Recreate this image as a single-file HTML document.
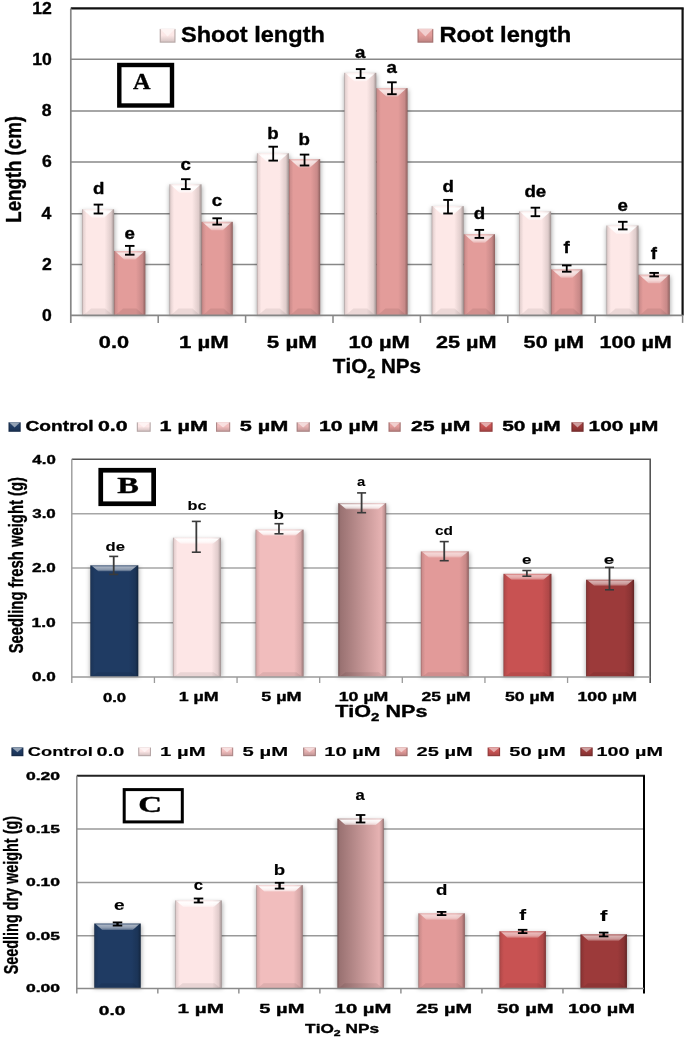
<!DOCTYPE html>
<html><head><meta charset="utf-8"><style>
html,body{margin:0;padding:0;background:#fff;overflow:hidden;}
svg{display:block;filter:blur(0.45px);}
text{font-kerning:none;stroke:#000;stroke-width:0.35px;stroke-linejoin:round;}
</style></head><body>
<svg width="685" height="1037" viewBox="0 0 685 1037">
<rect x="0" y="0" width="685" height="1037" fill="#fff"/>
<defs><filter id="blur" x="-30%" y="-10%" width="160%" height="120%"><feGaussianBlur stdDeviation="2.2"/></filter></defs>
<line x1="70.80" y1="264.50" x2="682.60" y2="264.50" stroke="#888" stroke-width="1.4"/>
<line x1="70.80" y1="213.80" x2="682.60" y2="213.80" stroke="#888" stroke-width="1.4"/>
<line x1="70.80" y1="162.05" x2="682.60" y2="162.05" stroke="#888" stroke-width="1.4"/>
<line x1="70.80" y1="111.00" x2="682.60" y2="111.00" stroke="#888" stroke-width="1.4"/>
<line x1="70.80" y1="59.30" x2="682.60" y2="59.30" stroke="#888" stroke-width="1.4"/>
<rect x="81.60" y="210.80" width="33.50" height="104.60" fill="#000" fill-opacity="0.3" filter="url(#blur)"/>
<rect x="113.60" y="252.50" width="32.80" height="62.90" fill="#000" fill-opacity="0.3" filter="url(#blur)"/>
<rect x="169.00" y="185.80" width="33.50" height="129.60" fill="#000" fill-opacity="0.3" filter="url(#blur)"/>
<rect x="201.00" y="223.30" width="32.80" height="92.10" fill="#000" fill-opacity="0.3" filter="url(#blur)"/>
<rect x="256.40" y="154.80" width="33.50" height="160.60" fill="#000" fill-opacity="0.3" filter="url(#blur)"/>
<rect x="288.40" y="160.60" width="32.80" height="154.80" fill="#000" fill-opacity="0.3" filter="url(#blur)"/>
<rect x="343.80" y="74.30" width="33.50" height="241.10" fill="#000" fill-opacity="0.3" filter="url(#blur)"/>
<rect x="375.80" y="89.60" width="32.80" height="225.80" fill="#000" fill-opacity="0.3" filter="url(#blur)"/>
<rect x="431.20" y="207.60" width="33.50" height="107.80" fill="#000" fill-opacity="0.3" filter="url(#blur)"/>
<rect x="463.20" y="235.70" width="32.80" height="79.70" fill="#000" fill-opacity="0.3" filter="url(#blur)"/>
<rect x="518.60" y="212.90" width="33.50" height="102.50" fill="#000" fill-opacity="0.3" filter="url(#blur)"/>
<rect x="550.60" y="270.80" width="32.80" height="44.60" fill="#000" fill-opacity="0.3" filter="url(#blur)"/>
<rect x="606.00" y="227.00" width="33.50" height="88.40" fill="#000" fill-opacity="0.3" filter="url(#blur)"/>
<rect x="638.00" y="276.20" width="32.80" height="39.20" fill="#000" fill-opacity="0.3" filter="url(#blur)"/>
<defs><linearGradient id="g1" x1="0" x2="1" y1="0" y2="0"><stop offset="0" stop-color="#aa9b9b"/><stop offset="0.037" stop-color="#e4d1d0"/><stop offset="0.141" stop-color="#fde8e7"/><stop offset="0.703" stop-color="#fde8e7"/><stop offset="0.906" stop-color="#dfcccb"/><stop offset="1" stop-color="#9d908f"/></linearGradient></defs>
<rect x="82.10" y="209.30" width="32.00" height="106.10" fill="url(#g1)" />
<defs><linearGradient id="t2" x1="0" x2="0" y1="0" y2="1"><stop offset="0" stop-color="#fff" stop-opacity="0.30"/><stop offset="0.3" stop-color="#fff" stop-opacity="1.00"/><stop offset="0.7" stop-color="#fff" stop-opacity="0.80"/><stop offset="1" stop-color="#fff" stop-opacity="0.35"/></linearGradient></defs>
<polygon points="82.90,209.30 113.30,209.30 104.10,217.80 92.10,217.80" fill="url(#t2)" />
<polygon points="83.10,315.40 113.10,315.40 105.10,308.60 91.10,308.60" fill="#000" fill-opacity="0.07"/>
<defs><linearGradient id="g3" x1="0" x2="1" y1="0" y2="0"><stop offset="0" stop-color="#986967"/><stop offset="0.038" stop-color="#cc8c8b"/><stop offset="0.144" stop-color="#e39c9a"/><stop offset="0.696" stop-color="#e39c9a"/><stop offset="0.904" stop-color="#c88988"/><stop offset="1" stop-color="#8d615f"/></linearGradient></defs>
<rect x="114.10" y="251.00" width="31.30" height="64.40" fill="url(#g3)" />
<defs><linearGradient id="t4" x1="0" x2="0" y1="0" y2="1"><stop offset="0" stop-color="#fff" stop-opacity="0.22"/><stop offset="0.3" stop-color="#fff" stop-opacity="0.75"/><stop offset="0.7" stop-color="#fff" stop-opacity="0.60"/><stop offset="1" stop-color="#fff" stop-opacity="0.26"/></linearGradient></defs>
<polygon points="114.90,251.00 144.60,251.00 135.40,259.50 124.10,259.50" fill="url(#t4)" />
<polygon points="115.10,315.40 144.40,315.40 136.40,308.60 123.10,308.60" fill="#000" fill-opacity="0.08"/>
<defs><linearGradient id="g5" x1="0" x2="1" y1="0" y2="0"><stop offset="0" stop-color="#aa9b9b"/><stop offset="0.037" stop-color="#e4d1d0"/><stop offset="0.141" stop-color="#fde8e7"/><stop offset="0.703" stop-color="#fde8e7"/><stop offset="0.906" stop-color="#dfcccb"/><stop offset="1" stop-color="#9d908f"/></linearGradient></defs>
<rect x="169.50" y="184.30" width="32.00" height="131.10" fill="url(#g5)" />
<defs><linearGradient id="t6" x1="0" x2="0" y1="0" y2="1"><stop offset="0" stop-color="#fff" stop-opacity="0.30"/><stop offset="0.3" stop-color="#fff" stop-opacity="1.00"/><stop offset="0.7" stop-color="#fff" stop-opacity="0.80"/><stop offset="1" stop-color="#fff" stop-opacity="0.35"/></linearGradient></defs>
<polygon points="170.30,184.30 200.70,184.30 191.50,192.80 179.50,192.80" fill="url(#t6)" />
<polygon points="170.50,315.40 200.50,315.40 192.50,308.60 178.50,308.60" fill="#000" fill-opacity="0.07"/>
<defs><linearGradient id="g7" x1="0" x2="1" y1="0" y2="0"><stop offset="0" stop-color="#986967"/><stop offset="0.038" stop-color="#cc8c8b"/><stop offset="0.144" stop-color="#e39c9a"/><stop offset="0.696" stop-color="#e39c9a"/><stop offset="0.904" stop-color="#c88988"/><stop offset="1" stop-color="#8d615f"/></linearGradient></defs>
<rect x="201.50" y="221.80" width="31.30" height="93.60" fill="url(#g7)" />
<defs><linearGradient id="t8" x1="0" x2="0" y1="0" y2="1"><stop offset="0" stop-color="#fff" stop-opacity="0.22"/><stop offset="0.3" stop-color="#fff" stop-opacity="0.75"/><stop offset="0.7" stop-color="#fff" stop-opacity="0.60"/><stop offset="1" stop-color="#fff" stop-opacity="0.26"/></linearGradient></defs>
<polygon points="202.30,221.80 232.00,221.80 222.80,230.30 211.50,230.30" fill="url(#t8)" />
<polygon points="202.50,315.40 231.80,315.40 223.80,308.60 210.50,308.60" fill="#000" fill-opacity="0.08"/>
<defs><linearGradient id="g9" x1="0" x2="1" y1="0" y2="0"><stop offset="0" stop-color="#aa9b9b"/><stop offset="0.037" stop-color="#e4d1d0"/><stop offset="0.141" stop-color="#fde8e7"/><stop offset="0.703" stop-color="#fde8e7"/><stop offset="0.906" stop-color="#dfcccb"/><stop offset="1" stop-color="#9d908f"/></linearGradient></defs>
<rect x="256.90" y="153.30" width="32.00" height="162.10" fill="url(#g9)" />
<defs><linearGradient id="t10" x1="0" x2="0" y1="0" y2="1"><stop offset="0" stop-color="#fff" stop-opacity="0.30"/><stop offset="0.3" stop-color="#fff" stop-opacity="1.00"/><stop offset="0.7" stop-color="#fff" stop-opacity="0.80"/><stop offset="1" stop-color="#fff" stop-opacity="0.35"/></linearGradient></defs>
<polygon points="257.70,153.30 288.10,153.30 278.90,161.80 266.90,161.80" fill="url(#t10)" />
<polygon points="257.90,315.40 287.90,315.40 279.90,308.60 265.90,308.60" fill="#000" fill-opacity="0.07"/>
<defs><linearGradient id="g11" x1="0" x2="1" y1="0" y2="0"><stop offset="0" stop-color="#986967"/><stop offset="0.038" stop-color="#cc8c8b"/><stop offset="0.144" stop-color="#e39c9a"/><stop offset="0.696" stop-color="#e39c9a"/><stop offset="0.904" stop-color="#c88988"/><stop offset="1" stop-color="#8d615f"/></linearGradient></defs>
<rect x="288.90" y="159.10" width="31.30" height="156.30" fill="url(#g11)" />
<defs><linearGradient id="t12" x1="0" x2="0" y1="0" y2="1"><stop offset="0" stop-color="#fff" stop-opacity="0.22"/><stop offset="0.3" stop-color="#fff" stop-opacity="0.75"/><stop offset="0.7" stop-color="#fff" stop-opacity="0.60"/><stop offset="1" stop-color="#fff" stop-opacity="0.26"/></linearGradient></defs>
<polygon points="289.70,159.10 319.40,159.10 310.20,167.60 298.90,167.60" fill="url(#t12)" />
<polygon points="289.90,315.40 319.20,315.40 311.20,308.60 297.90,308.60" fill="#000" fill-opacity="0.08"/>
<defs><linearGradient id="g13" x1="0" x2="1" y1="0" y2="0"><stop offset="0" stop-color="#aa9b9b"/><stop offset="0.037" stop-color="#e4d1d0"/><stop offset="0.141" stop-color="#fde8e7"/><stop offset="0.703" stop-color="#fde8e7"/><stop offset="0.906" stop-color="#dfcccb"/><stop offset="1" stop-color="#9d908f"/></linearGradient></defs>
<rect x="344.30" y="72.80" width="32.00" height="242.60" fill="url(#g13)" />
<defs><linearGradient id="t14" x1="0" x2="0" y1="0" y2="1"><stop offset="0" stop-color="#fff" stop-opacity="0.30"/><stop offset="0.3" stop-color="#fff" stop-opacity="1.00"/><stop offset="0.7" stop-color="#fff" stop-opacity="0.80"/><stop offset="1" stop-color="#fff" stop-opacity="0.35"/></linearGradient></defs>
<polygon points="345.10,72.80 375.50,72.80 366.30,81.30 354.30,81.30" fill="url(#t14)" />
<polygon points="345.30,315.40 375.30,315.40 367.30,308.60 353.30,308.60" fill="#000" fill-opacity="0.07"/>
<defs><linearGradient id="g15" x1="0" x2="1" y1="0" y2="0"><stop offset="0" stop-color="#986967"/><stop offset="0.038" stop-color="#cc8c8b"/><stop offset="0.144" stop-color="#e39c9a"/><stop offset="0.696" stop-color="#e39c9a"/><stop offset="0.904" stop-color="#c88988"/><stop offset="1" stop-color="#8d615f"/></linearGradient></defs>
<rect x="376.30" y="88.10" width="31.30" height="227.30" fill="url(#g15)" />
<defs><linearGradient id="t16" x1="0" x2="0" y1="0" y2="1"><stop offset="0" stop-color="#fff" stop-opacity="0.22"/><stop offset="0.3" stop-color="#fff" stop-opacity="0.75"/><stop offset="0.7" stop-color="#fff" stop-opacity="0.60"/><stop offset="1" stop-color="#fff" stop-opacity="0.26"/></linearGradient></defs>
<polygon points="377.10,88.10 406.80,88.10 397.60,96.60 386.30,96.60" fill="url(#t16)" />
<polygon points="377.30,315.40 406.60,315.40 398.60,308.60 385.30,308.60" fill="#000" fill-opacity="0.08"/>
<defs><linearGradient id="g17" x1="0" x2="1" y1="0" y2="0"><stop offset="0" stop-color="#aa9b9b"/><stop offset="0.037" stop-color="#e4d1d0"/><stop offset="0.141" stop-color="#fde8e7"/><stop offset="0.703" stop-color="#fde8e7"/><stop offset="0.906" stop-color="#dfcccb"/><stop offset="1" stop-color="#9d908f"/></linearGradient></defs>
<rect x="431.70" y="206.10" width="32.00" height="109.30" fill="url(#g17)" />
<defs><linearGradient id="t18" x1="0" x2="0" y1="0" y2="1"><stop offset="0" stop-color="#fff" stop-opacity="0.30"/><stop offset="0.3" stop-color="#fff" stop-opacity="1.00"/><stop offset="0.7" stop-color="#fff" stop-opacity="0.80"/><stop offset="1" stop-color="#fff" stop-opacity="0.35"/></linearGradient></defs>
<polygon points="432.50,206.10 462.90,206.10 453.70,214.60 441.70,214.60" fill="url(#t18)" />
<polygon points="432.70,315.40 462.70,315.40 454.70,308.60 440.70,308.60" fill="#000" fill-opacity="0.07"/>
<defs><linearGradient id="g19" x1="0" x2="1" y1="0" y2="0"><stop offset="0" stop-color="#986967"/><stop offset="0.038" stop-color="#cc8c8b"/><stop offset="0.144" stop-color="#e39c9a"/><stop offset="0.696" stop-color="#e39c9a"/><stop offset="0.904" stop-color="#c88988"/><stop offset="1" stop-color="#8d615f"/></linearGradient></defs>
<rect x="463.70" y="234.20" width="31.30" height="81.20" fill="url(#g19)" />
<defs><linearGradient id="t20" x1="0" x2="0" y1="0" y2="1"><stop offset="0" stop-color="#fff" stop-opacity="0.22"/><stop offset="0.3" stop-color="#fff" stop-opacity="0.75"/><stop offset="0.7" stop-color="#fff" stop-opacity="0.60"/><stop offset="1" stop-color="#fff" stop-opacity="0.26"/></linearGradient></defs>
<polygon points="464.50,234.20 494.20,234.20 485.00,242.70 473.70,242.70" fill="url(#t20)" />
<polygon points="464.70,315.40 494.00,315.40 486.00,308.60 472.70,308.60" fill="#000" fill-opacity="0.08"/>
<defs><linearGradient id="g21" x1="0" x2="1" y1="0" y2="0"><stop offset="0" stop-color="#aa9b9b"/><stop offset="0.037" stop-color="#e4d1d0"/><stop offset="0.141" stop-color="#fde8e7"/><stop offset="0.703" stop-color="#fde8e7"/><stop offset="0.906" stop-color="#dfcccb"/><stop offset="1" stop-color="#9d908f"/></linearGradient></defs>
<rect x="519.10" y="211.40" width="32.00" height="104.00" fill="url(#g21)" />
<defs><linearGradient id="t22" x1="0" x2="0" y1="0" y2="1"><stop offset="0" stop-color="#fff" stop-opacity="0.30"/><stop offset="0.3" stop-color="#fff" stop-opacity="1.00"/><stop offset="0.7" stop-color="#fff" stop-opacity="0.80"/><stop offset="1" stop-color="#fff" stop-opacity="0.35"/></linearGradient></defs>
<polygon points="519.90,211.40 550.30,211.40 541.10,219.90 529.10,219.90" fill="url(#t22)" />
<polygon points="520.10,315.40 550.10,315.40 542.10,308.60 528.10,308.60" fill="#000" fill-opacity="0.07"/>
<defs><linearGradient id="g23" x1="0" x2="1" y1="0" y2="0"><stop offset="0" stop-color="#986967"/><stop offset="0.038" stop-color="#cc8c8b"/><stop offset="0.144" stop-color="#e39c9a"/><stop offset="0.696" stop-color="#e39c9a"/><stop offset="0.904" stop-color="#c88988"/><stop offset="1" stop-color="#8d615f"/></linearGradient></defs>
<rect x="551.10" y="269.30" width="31.30" height="46.10" fill="url(#g23)" />
<defs><linearGradient id="t24" x1="0" x2="0" y1="0" y2="1"><stop offset="0" stop-color="#fff" stop-opacity="0.22"/><stop offset="0.3" stop-color="#fff" stop-opacity="0.75"/><stop offset="0.7" stop-color="#fff" stop-opacity="0.60"/><stop offset="1" stop-color="#fff" stop-opacity="0.26"/></linearGradient></defs>
<polygon points="551.90,269.30 581.60,269.30 572.40,277.80 561.10,277.80" fill="url(#t24)" />
<polygon points="552.10,315.40 581.40,315.40 573.40,308.60 560.10,308.60" fill="#000" fill-opacity="0.08"/>
<defs><linearGradient id="g25" x1="0" x2="1" y1="0" y2="0"><stop offset="0" stop-color="#aa9b9b"/><stop offset="0.037" stop-color="#e4d1d0"/><stop offset="0.141" stop-color="#fde8e7"/><stop offset="0.703" stop-color="#fde8e7"/><stop offset="0.906" stop-color="#dfcccb"/><stop offset="1" stop-color="#9d908f"/></linearGradient></defs>
<rect x="606.50" y="225.50" width="32.00" height="89.90" fill="url(#g25)" />
<defs><linearGradient id="t26" x1="0" x2="0" y1="0" y2="1"><stop offset="0" stop-color="#fff" stop-opacity="0.30"/><stop offset="0.3" stop-color="#fff" stop-opacity="1.00"/><stop offset="0.7" stop-color="#fff" stop-opacity="0.80"/><stop offset="1" stop-color="#fff" stop-opacity="0.35"/></linearGradient></defs>
<polygon points="607.30,225.50 637.70,225.50 628.50,234.00 616.50,234.00" fill="url(#t26)" />
<polygon points="607.50,315.40 637.50,315.40 629.50,308.60 615.50,308.60" fill="#000" fill-opacity="0.07"/>
<defs><linearGradient id="g27" x1="0" x2="1" y1="0" y2="0"><stop offset="0" stop-color="#986967"/><stop offset="0.038" stop-color="#cc8c8b"/><stop offset="0.144" stop-color="#e39c9a"/><stop offset="0.696" stop-color="#e39c9a"/><stop offset="0.904" stop-color="#c88988"/><stop offset="1" stop-color="#8d615f"/></linearGradient></defs>
<rect x="638.50" y="274.70" width="31.30" height="40.70" fill="url(#g27)" />
<defs><linearGradient id="t28" x1="0" x2="0" y1="0" y2="1"><stop offset="0" stop-color="#fff" stop-opacity="0.22"/><stop offset="0.3" stop-color="#fff" stop-opacity="0.75"/><stop offset="0.7" stop-color="#fff" stop-opacity="0.60"/><stop offset="1" stop-color="#fff" stop-opacity="0.26"/></linearGradient></defs>
<polygon points="639.30,274.70 669.00,274.70 659.80,283.20 648.50,283.20" fill="url(#t28)" />
<polygon points="639.50,315.40 668.80,315.40 660.80,308.60 647.50,308.60" fill="#000" fill-opacity="0.08"/>
<line x1="98.40" y1="204.60" x2="98.40" y2="213.50" stroke="#000" stroke-width="1.8"/>
<line x1="93.65" y1="204.60" x2="103.15" y2="204.60" stroke="#000" stroke-width="1.9"/>
<line x1="93.65" y1="213.50" x2="103.15" y2="213.50" stroke="#000" stroke-width="1.9"/>
<line x1="129.75" y1="245.90" x2="129.75" y2="254.70" stroke="#000" stroke-width="1.8"/>
<line x1="125.00" y1="245.90" x2="134.50" y2="245.90" stroke="#000" stroke-width="1.9"/>
<line x1="125.00" y1="254.70" x2="134.50" y2="254.70" stroke="#000" stroke-width="1.9"/>
<text x="92.92" y="194.10" font-family="Liberation Sans" font-size="17" font-weight="bold" fill="#000" textLength="11.42" lengthAdjust="spacingAndGlyphs">d</text>
<text x="124.50" y="238.60" font-family="Liberation Sans" font-size="17" font-weight="bold" fill="#000" textLength="10.40" lengthAdjust="spacingAndGlyphs">e</text>
<line x1="185.80" y1="179.20" x2="185.80" y2="189.10" stroke="#000" stroke-width="1.8"/>
<line x1="181.05" y1="179.20" x2="190.55" y2="179.20" stroke="#000" stroke-width="1.9"/>
<line x1="181.05" y1="189.10" x2="190.55" y2="189.10" stroke="#000" stroke-width="1.9"/>
<line x1="217.15" y1="218.30" x2="217.15" y2="224.60" stroke="#000" stroke-width="1.8"/>
<line x1="212.40" y1="218.30" x2="221.90" y2="218.30" stroke="#000" stroke-width="1.9"/>
<line x1="212.40" y1="224.60" x2="221.90" y2="224.60" stroke="#000" stroke-width="1.9"/>
<text x="180.51" y="169.70" font-family="Liberation Sans" font-size="17" font-weight="bold" fill="#000" textLength="10.40" lengthAdjust="spacingAndGlyphs">c</text>
<text x="211.86" y="206.20" font-family="Liberation Sans" font-size="17" font-weight="bold" fill="#000" textLength="10.40" lengthAdjust="spacingAndGlyphs">c</text>
<line x1="273.20" y1="146.70" x2="273.20" y2="160.60" stroke="#000" stroke-width="1.8"/>
<line x1="268.45" y1="146.70" x2="277.95" y2="146.70" stroke="#000" stroke-width="1.9"/>
<line x1="268.45" y1="160.60" x2="277.95" y2="160.60" stroke="#000" stroke-width="1.9"/>
<line x1="304.55" y1="154.60" x2="304.55" y2="165.50" stroke="#000" stroke-width="1.8"/>
<line x1="299.80" y1="154.60" x2="309.30" y2="154.60" stroke="#000" stroke-width="1.9"/>
<line x1="299.80" y1="165.50" x2="309.30" y2="165.50" stroke="#000" stroke-width="1.9"/>
<text x="267.26" y="139.00" font-family="Liberation Sans" font-size="17" font-weight="bold" fill="#000" textLength="11.42" lengthAdjust="spacingAndGlyphs">b</text>
<text x="298.61" y="144.80" font-family="Liberation Sans" font-size="17" font-weight="bold" fill="#000" textLength="11.42" lengthAdjust="spacingAndGlyphs">b</text>
<line x1="360.60" y1="69.10" x2="360.60" y2="77.90" stroke="#000" stroke-width="1.8"/>
<line x1="355.85" y1="69.10" x2="365.35" y2="69.10" stroke="#000" stroke-width="1.9"/>
<line x1="355.85" y1="77.90" x2="365.35" y2="77.90" stroke="#000" stroke-width="1.9"/>
<line x1="391.95" y1="82.30" x2="391.95" y2="94.20" stroke="#000" stroke-width="1.8"/>
<line x1="387.20" y1="82.30" x2="396.70" y2="82.30" stroke="#000" stroke-width="1.9"/>
<line x1="387.20" y1="94.20" x2="396.70" y2="94.20" stroke="#000" stroke-width="1.9"/>
<text x="355.07" y="57.70" font-family="Liberation Sans" font-size="17" font-weight="bold" fill="#000" textLength="10.40" lengthAdjust="spacingAndGlyphs">a</text>
<text x="386.42" y="73.00" font-family="Liberation Sans" font-size="17" font-weight="bold" fill="#000" textLength="10.40" lengthAdjust="spacingAndGlyphs">a</text>
<line x1="448.00" y1="199.90" x2="448.00" y2="213.50" stroke="#000" stroke-width="1.8"/>
<line x1="443.25" y1="199.90" x2="452.75" y2="199.90" stroke="#000" stroke-width="1.9"/>
<line x1="443.25" y1="213.50" x2="452.75" y2="213.50" stroke="#000" stroke-width="1.9"/>
<line x1="479.35" y1="229.90" x2="479.35" y2="237.90" stroke="#000" stroke-width="1.8"/>
<line x1="474.60" y1="229.90" x2="484.10" y2="229.90" stroke="#000" stroke-width="1.9"/>
<line x1="474.60" y1="237.90" x2="484.10" y2="237.90" stroke="#000" stroke-width="1.9"/>
<text x="442.52" y="191.90" font-family="Liberation Sans" font-size="17" font-weight="bold" fill="#000" textLength="11.42" lengthAdjust="spacingAndGlyphs">d</text>
<text x="473.87" y="218.90" font-family="Liberation Sans" font-size="17" font-weight="bold" fill="#000" textLength="11.42" lengthAdjust="spacingAndGlyphs">d</text>
<line x1="535.40" y1="207.70" x2="535.40" y2="216.20" stroke="#000" stroke-width="1.8"/>
<line x1="530.65" y1="207.70" x2="540.15" y2="207.70" stroke="#000" stroke-width="1.9"/>
<line x1="530.65" y1="216.20" x2="540.15" y2="216.20" stroke="#000" stroke-width="1.9"/>
<line x1="566.75" y1="265.40" x2="566.75" y2="271.70" stroke="#000" stroke-width="1.8"/>
<line x1="562.00" y1="265.40" x2="571.50" y2="265.40" stroke="#000" stroke-width="1.9"/>
<line x1="562.00" y1="271.70" x2="571.50" y2="271.70" stroke="#000" stroke-width="1.9"/>
<text x="524.42" y="196.50" font-family="Liberation Sans" font-size="17" font-weight="bold" fill="#000" textLength="21.82" lengthAdjust="spacingAndGlyphs">de</text>
<text x="563.46" y="253.00" font-family="Liberation Sans" font-size="17" font-weight="bold" fill="#000" textLength="6.23" lengthAdjust="spacingAndGlyphs">f</text>
<line x1="622.80" y1="221.80" x2="622.80" y2="229.40" stroke="#000" stroke-width="1.8"/>
<line x1="618.05" y1="221.80" x2="627.55" y2="221.80" stroke="#000" stroke-width="1.9"/>
<line x1="618.05" y1="229.40" x2="627.55" y2="229.40" stroke="#000" stroke-width="1.9"/>
<line x1="654.15" y1="272.90" x2="654.15" y2="276.40" stroke="#000" stroke-width="1.8"/>
<line x1="649.40" y1="272.90" x2="658.90" y2="272.90" stroke="#000" stroke-width="1.9"/>
<line x1="649.40" y1="276.40" x2="658.90" y2="276.40" stroke="#000" stroke-width="1.9"/>
<text x="617.55" y="211.20" font-family="Liberation Sans" font-size="17" font-weight="bold" fill="#000" textLength="10.40" lengthAdjust="spacingAndGlyphs">e</text>
<text x="650.86" y="259.30" font-family="Liberation Sans" font-size="17" font-weight="bold" fill="#000" textLength="6.23" lengthAdjust="spacingAndGlyphs">f</text>
<line x1="70.80" y1="8.40" x2="683.70" y2="8.40" stroke="#111" stroke-width="2.2"/>
<line x1="682.60" y1="8.40" x2="682.60" y2="315.40" stroke="#111" stroke-width="2.2"/>
<line x1="70.80" y1="8.40" x2="70.80" y2="322.90" stroke="#868686" stroke-width="1.7"/>
<line x1="70.80" y1="315.40" x2="682.60" y2="315.40" stroke="#868686" stroke-width="1.7"/>
<line x1="158.20" y1="315.40" x2="158.20" y2="322.90" stroke="#868686" stroke-width="1.5"/>
<line x1="245.60" y1="315.40" x2="245.60" y2="322.90" stroke="#868686" stroke-width="1.5"/>
<line x1="333.00" y1="315.40" x2="333.00" y2="322.90" stroke="#868686" stroke-width="1.5"/>
<line x1="420.40" y1="315.40" x2="420.40" y2="322.90" stroke="#868686" stroke-width="1.5"/>
<line x1="507.80" y1="315.40" x2="507.80" y2="322.90" stroke="#868686" stroke-width="1.5"/>
<line x1="595.20" y1="315.40" x2="595.20" y2="322.90" stroke="#868686" stroke-width="1.5"/>
<line x1="682.60" y1="315.40" x2="682.60" y2="322.90" stroke="#868686" stroke-width="1.5"/>
<text x="42.03" y="320.80" font-family="Liberation Sans" font-size="16.3" font-weight="bold" fill="#000" textLength="9.79" lengthAdjust="spacingAndGlyphs">0</text>
<text x="42.01" y="269.80" font-family="Liberation Sans" font-size="16.3" font-weight="bold" fill="#000" textLength="9.79" lengthAdjust="spacingAndGlyphs">2</text>
<text x="41.40" y="219.10" font-family="Liberation Sans" font-size="16.3" font-weight="bold" fill="#000" textLength="9.79" lengthAdjust="spacingAndGlyphs">4</text>
<text x="41.95" y="167.35" font-family="Liberation Sans" font-size="16.3" font-weight="bold" fill="#000" textLength="9.79" lengthAdjust="spacingAndGlyphs">6</text>
<text x="41.85" y="116.30" font-family="Liberation Sans" font-size="16.3" font-weight="bold" fill="#000" textLength="9.79" lengthAdjust="spacingAndGlyphs">8</text>
<text x="32.24" y="64.60" font-family="Liberation Sans" font-size="16.3" font-weight="bold" fill="#000" textLength="19.58" lengthAdjust="spacingAndGlyphs">10</text>
<text x="32.22" y="13.70" font-family="Liberation Sans" font-size="16.3" font-weight="bold" fill="#000" textLength="19.58" lengthAdjust="spacingAndGlyphs">12</text>
<text transform="translate(20.80,221.50) rotate(-90)" x="-1.25" y="0" font-family="Liberation Sans" font-size="21.8" font-weight="bold" fill="#000" textLength="106.68" lengthAdjust="spacingAndGlyphs">Length (cm)</text>
<text x="98.84" y="347.90" font-family="Liberation Sans" font-size="16.8" font-weight="bold" fill="#000" textLength="30.25" lengthAdjust="spacingAndGlyphs">0.0</text>
<text x="179.10" y="347.90" font-family="Liberation Sans" font-size="16.8" font-weight="bold" fill="#000" textLength="49.78" lengthAdjust="spacingAndGlyphs">1 µM</text>
<text x="266.81" y="347.90" font-family="Liberation Sans" font-size="16.8" font-weight="bold" fill="#000" textLength="50.08" lengthAdjust="spacingAndGlyphs">5 µM</text>
<text x="348.52" y="347.90" font-family="Liberation Sans" font-size="16.8" font-weight="bold" fill="#000" textLength="61.24" lengthAdjust="spacingAndGlyphs">10 µM</text>
<text x="435.95" y="347.90" font-family="Liberation Sans" font-size="16.8" font-weight="bold" fill="#000" textLength="60.60" lengthAdjust="spacingAndGlyphs">25 µM</text>
<text x="523.64" y="347.90" font-family="Liberation Sans" font-size="16.8" font-weight="bold" fill="#000" textLength="60.51" lengthAdjust="spacingAndGlyphs">50 µM</text>
<text x="599.44" y="347.90" font-family="Liberation Sans" font-size="16.8" font-weight="bold" fill="#000" textLength="72.40" lengthAdjust="spacingAndGlyphs">100 µM</text>
<text y="373.30" font-family="Liberation Sans" font-size="19.5" font-weight="bold" fill="#000"><tspan x="332.87" textLength="34.38" lengthAdjust="spacingAndGlyphs">TiO</tspan><tspan x="367.24" dy="5" font-size="13.5" textLength="7.94" lengthAdjust="spacingAndGlyphs">2</tspan><tspan x="375.19" dy="-5" textLength="45.86" lengthAdjust="spacingAndGlyphs"> NPs</tspan></text>
<rect x="159.70" y="28.90" width="15.80" height="13.80" fill="#b6a7a6" />
<defs><linearGradient id="g29" x1="0" x2="0" y1="0" y2="1"><stop offset="0" stop-color="#fdeae9"/><stop offset="0.5" stop-color="#fde8e7"/><stop offset="1" stop-color="#d7c5c4"/></linearGradient></defs>
<rect x="160.80" y="28.90" width="13.60" height="12.70" fill="url(#g29)" />
<polygon points="160.30,28.90 174.90,28.90 167.60,36.49" fill="#fef6f5" fill-opacity="0.85"/>
<text x="181.02" y="42.20" font-family="Liberation Sans" font-size="22" font-weight="bold" fill="#000" textLength="143.84" lengthAdjust="spacingAndGlyphs">Shoot length</text>
<rect x="417.50" y="28.90" width="15.80" height="13.80" fill="#a3706f" />
<defs><linearGradient id="g30" x1="0" x2="0" y1="0" y2="1"><stop offset="0" stop-color="#e6a6a4"/><stop offset="0.5" stop-color="#e39c9a"/><stop offset="1" stop-color="#c18583"/></linearGradient></defs>
<rect x="418.60" y="28.90" width="13.60" height="12.70" fill="url(#g30)" />
<polygon points="418.10,28.90 432.70,28.90 425.40,36.49" fill="#f4d7d7" fill-opacity="0.85"/>
<text x="439.41" y="42.20" font-family="Liberation Sans" font-size="22" font-weight="bold" fill="#000" textLength="131.86" lengthAdjust="spacingAndGlyphs">Root length</text>
<rect x="119.30" y="65.00" width="52.70" height="40.50" fill="#fff" stroke="#000" stroke-width="4.4"/>
<text x="133.06" y="89.20" font-family="Liberation Serif" font-size="23" font-weight="bold" fill="#000" textLength="17.51" lengthAdjust="spacingAndGlyphs">A</text>
<line x1="71.80" y1="622.70" x2="650.20" y2="622.70" stroke="#a6a6a6" stroke-width="1.5"/>
<line x1="71.80" y1="567.90" x2="650.20" y2="567.90" stroke="#a6a6a6" stroke-width="1.5"/>
<line x1="71.80" y1="513.70" x2="650.20" y2="513.70" stroke="#a6a6a6" stroke-width="1.5"/>
<rect x="89.81" y="566.80" width="49.50" height="110.20" fill="#000" fill-opacity="0.3" filter="url(#blur)"/>
<rect x="172.44" y="539.20" width="49.50" height="137.80" fill="#000" fill-opacity="0.3" filter="url(#blur)"/>
<rect x="255.07" y="531.10" width="49.50" height="145.90" fill="#000" fill-opacity="0.3" filter="url(#blur)"/>
<rect x="337.70" y="504.70" width="49.50" height="172.30" fill="#000" fill-opacity="0.3" filter="url(#blur)"/>
<rect x="420.33" y="552.90" width="49.50" height="124.10" fill="#000" fill-opacity="0.3" filter="url(#blur)"/>
<rect x="502.96" y="575.30" width="49.50" height="101.70" fill="#000" fill-opacity="0.3" filter="url(#blur)"/>
<rect x="585.59" y="581.20" width="49.50" height="95.80" fill="#000" fill-opacity="0.3" filter="url(#blur)"/>
<defs><linearGradient id="g31" x1="0" x2="1" y1="0" y2="0"><stop offset="0" stop-color="#152842"/><stop offset="0.025" stop-color="#1c3559"/><stop offset="0.094" stop-color="#1f3b63"/><stop offset="0.802" stop-color="#1f3b63"/><stop offset="0.938" stop-color="#1b3457"/><stop offset="1" stop-color="#13253d"/></linearGradient></defs>
<rect x="90.31" y="565.30" width="48.00" height="111.70" fill="url(#g31)" />
<defs><linearGradient id="t32" x1="0" x2="0" y1="0" y2="1"><stop offset="0" stop-color="#fff" stop-opacity="0.18"/><stop offset="0.3" stop-color="#fff" stop-opacity="0.60"/><stop offset="0.7" stop-color="#fff" stop-opacity="0.48"/><stop offset="1" stop-color="#fff" stop-opacity="0.21"/></linearGradient></defs>
<polygon points="91.11,565.30 137.51,565.30 130.31,571.30 98.31,571.30" fill="url(#t32)" />
<polygon points="91.31,677.00 137.31,677.00 131.11,672.20 97.51,672.20" fill="#000" fill-opacity="0.08"/>
<defs><linearGradient id="g33" x1="0" x2="1" y1="0" y2="0"><stop offset="0" stop-color="#aa9a9a"/><stop offset="0.025" stop-color="#e4cfcf"/><stop offset="0.094" stop-color="#fde6e6"/><stop offset="0.802" stop-color="#fde6e6"/><stop offset="0.938" stop-color="#dfcaca"/><stop offset="1" stop-color="#9d8f8f"/></linearGradient></defs>
<rect x="172.94" y="537.70" width="48.00" height="139.30" fill="url(#g33)" />
<defs><linearGradient id="t34" x1="0" x2="0" y1="0" y2="1"><stop offset="0" stop-color="#fff" stop-opacity="0.28"/><stop offset="0.3" stop-color="#fff" stop-opacity="0.95"/><stop offset="0.7" stop-color="#fff" stop-opacity="0.76"/><stop offset="1" stop-color="#fff" stop-opacity="0.33"/></linearGradient></defs>
<polygon points="173.74,537.70 220.14,537.70 212.94,543.70 180.94,543.70" fill="url(#t34)" />
<polygon points="173.94,677.00 219.94,677.00 213.74,672.20 180.14,672.20" fill="#000" fill-opacity="0.08"/>
<defs><linearGradient id="g35" x1="0" x2="1" y1="0" y2="0"><stop offset="0" stop-color="#a17f7f"/><stop offset="0.025" stop-color="#d9aaaa"/><stop offset="0.094" stop-color="#f1bdbd"/><stop offset="0.802" stop-color="#f1bdbd"/><stop offset="0.938" stop-color="#d4a6a6"/><stop offset="1" stop-color="#957575"/></linearGradient></defs>
<rect x="255.57" y="529.60" width="48.00" height="147.40" fill="url(#g35)" />
<defs><linearGradient id="t36" x1="0" x2="0" y1="0" y2="1"><stop offset="0" stop-color="#fff" stop-opacity="0.28"/><stop offset="0.3" stop-color="#fff" stop-opacity="0.95"/><stop offset="0.7" stop-color="#fff" stop-opacity="0.76"/><stop offset="1" stop-color="#fff" stop-opacity="0.33"/></linearGradient></defs>
<polygon points="256.37,529.60 302.77,529.60 295.57,535.60 263.57,535.60" fill="url(#t36)" />
<polygon points="256.57,677.00 302.57,677.00 296.37,672.20 262.77,672.20" fill="#000" fill-opacity="0.08"/>
<defs><linearGradient id="g37" x1="0" x2="1" y1="0" y2="0"><stop offset="0" stop-color="#745656"/><stop offset="0.05" stop-color="#9a7272"/><stop offset="0.90" stop-color="#e6b2b2"/><stop offset="0.96" stop-color="#c49797"/><stop offset="1" stop-color="#8a6b6b"/></linearGradient></defs>
<rect x="338.20" y="503.20" width="48.00" height="173.80" fill="url(#g37)" />
<defs><linearGradient id="t38" x1="0" x2="0" y1="0" y2="1"><stop offset="0" stop-color="#fff" stop-opacity="0.28"/><stop offset="0.3" stop-color="#fff" stop-opacity="0.95"/><stop offset="0.7" stop-color="#fff" stop-opacity="0.76"/><stop offset="1" stop-color="#fff" stop-opacity="0.33"/></linearGradient></defs>
<polygon points="339.00,503.20 385.40,503.20 378.20,509.20 346.20,509.20" fill="url(#t38)" />
<polygon points="339.20,677.00 385.20,677.00 379.00,672.20 345.40,672.20" fill="#000" fill-opacity="0.08"/>
<defs><linearGradient id="g39" x1="0" x2="1" y1="0" y2="0"><stop offset="0" stop-color="#976767"/><stop offset="0.025" stop-color="#cb8b8a"/><stop offset="0.094" stop-color="#e29a99"/><stop offset="0.802" stop-color="#e29a99"/><stop offset="0.938" stop-color="#c78887"/><stop offset="1" stop-color="#8c5f5f"/></linearGradient></defs>
<rect x="420.83" y="551.40" width="48.00" height="125.60" fill="url(#g39)" />
<defs><linearGradient id="t40" x1="0" x2="0" y1="0" y2="1"><stop offset="0" stop-color="#fff" stop-opacity="0.18"/><stop offset="0.3" stop-color="#fff" stop-opacity="0.60"/><stop offset="0.7" stop-color="#fff" stop-opacity="0.48"/><stop offset="1" stop-color="#fff" stop-opacity="0.21"/></linearGradient></defs>
<polygon points="421.63,551.40 468.03,551.40 460.83,557.40 428.83,557.40" fill="url(#t40)" />
<polygon points="421.83,677.00 467.83,677.00 461.63,672.20 428.03,672.20" fill="#000" fill-opacity="0.08"/>
<defs><linearGradient id="g41" x1="0" x2="1" y1="0" y2="0"><stop offset="0" stop-color="#863737"/><stop offset="0.025" stop-color="#b44a4a"/><stop offset="0.094" stop-color="#c85252"/><stop offset="0.802" stop-color="#c85252"/><stop offset="0.938" stop-color="#b04848"/><stop offset="1" stop-color="#7c3333"/></linearGradient></defs>
<rect x="503.46" y="573.80" width="48.00" height="103.20" fill="url(#g41)" />
<defs><linearGradient id="t42" x1="0" x2="0" y1="0" y2="1"><stop offset="0" stop-color="#fff" stop-opacity="0.18"/><stop offset="0.3" stop-color="#fff" stop-opacity="0.60"/><stop offset="0.7" stop-color="#fff" stop-opacity="0.48"/><stop offset="1" stop-color="#fff" stop-opacity="0.21"/></linearGradient></defs>
<polygon points="504.26,573.80 550.66,573.80 543.46,579.80 511.46,579.80" fill="url(#t42)" />
<polygon points="504.46,677.00 550.46,677.00 544.26,672.20 510.66,672.20" fill="#000" fill-opacity="0.08"/>
<defs><linearGradient id="g43" x1="0" x2="1" y1="0" y2="0"><stop offset="0" stop-color="#692727"/><stop offset="0.025" stop-color="#8c3434"/><stop offset="0.094" stop-color="#9c3a3a"/><stop offset="0.802" stop-color="#9c3a3a"/><stop offset="0.938" stop-color="#893333"/><stop offset="1" stop-color="#612424"/></linearGradient></defs>
<rect x="586.09" y="579.70" width="48.00" height="97.30" fill="url(#g43)" />
<defs><linearGradient id="t44" x1="0" x2="0" y1="0" y2="1"><stop offset="0" stop-color="#fff" stop-opacity="0.18"/><stop offset="0.3" stop-color="#fff" stop-opacity="0.60"/><stop offset="0.7" stop-color="#fff" stop-opacity="0.48"/><stop offset="1" stop-color="#fff" stop-opacity="0.21"/></linearGradient></defs>
<polygon points="586.89,579.70 633.29,579.70 626.09,585.70 594.09,585.70" fill="url(#t44)" />
<polygon points="587.09,677.00 633.09,677.00 626.89,672.20 593.29,672.20" fill="#000" fill-opacity="0.08"/>
<line x1="113.71" y1="556.40" x2="113.71" y2="574.40" stroke="#3a3a3a" stroke-width="1.8"/>
<line x1="109.21" y1="556.40" x2="118.21" y2="556.40" stroke="#3a3a3a" stroke-width="1.6"/>
<line x1="109.21" y1="574.40" x2="118.21" y2="574.40" stroke="#3a3a3a" stroke-width="1.6"/>
<text x="105.52" y="551.00" font-family="Liberation Sans" font-size="13.5" font-weight="bold" fill="#000" textLength="19.45" lengthAdjust="spacingAndGlyphs" style="stroke-width:0.1px">de</text>
<line x1="196.34" y1="521.40" x2="196.34" y2="552.20" stroke="#3a3a3a" stroke-width="1.8"/>
<line x1="191.84" y1="521.40" x2="200.84" y2="521.40" stroke="#3a3a3a" stroke-width="1.6"/>
<line x1="191.84" y1="552.20" x2="200.84" y2="552.20" stroke="#3a3a3a" stroke-width="1.6"/>
<text x="187.52" y="510.20" font-family="Liberation Sans" font-size="13.5" font-weight="bold" fill="#000" textLength="19.05" lengthAdjust="spacingAndGlyphs" style="stroke-width:0.1px">bc</text>
<line x1="278.97" y1="523.70" x2="278.97" y2="533.80" stroke="#3a3a3a" stroke-width="1.8"/>
<line x1="274.47" y1="523.70" x2="283.47" y2="523.70" stroke="#3a3a3a" stroke-width="1.6"/>
<line x1="274.47" y1="533.80" x2="283.47" y2="533.80" stroke="#3a3a3a" stroke-width="1.6"/>
<text x="273.48" y="519.00" font-family="Liberation Sans" font-size="13.5" font-weight="bold" fill="#000" textLength="10.42" lengthAdjust="spacingAndGlyphs" style="stroke-width:0.1px">b</text>
<line x1="361.60" y1="492.90" x2="361.60" y2="512.70" stroke="#3a3a3a" stroke-width="1.8"/>
<line x1="357.10" y1="492.90" x2="366.10" y2="492.90" stroke="#3a3a3a" stroke-width="1.6"/>
<line x1="357.10" y1="512.70" x2="366.10" y2="512.70" stroke="#3a3a3a" stroke-width="1.6"/>
<text x="357.07" y="486.40" font-family="Liberation Sans" font-size="13.5" font-weight="bold" fill="#000" textLength="8.24" lengthAdjust="spacingAndGlyphs" style="stroke-width:0.1px">a</text>
<line x1="444.23" y1="541.60" x2="444.23" y2="560.70" stroke="#3a3a3a" stroke-width="1.8"/>
<line x1="439.73" y1="541.60" x2="448.73" y2="541.60" stroke="#3a3a3a" stroke-width="1.6"/>
<line x1="439.73" y1="560.70" x2="448.73" y2="560.70" stroke="#3a3a3a" stroke-width="1.6"/>
<text x="434.90" y="534.60" font-family="Liberation Sans" font-size="13.5" font-weight="bold" fill="#000" textLength="18.02" lengthAdjust="spacingAndGlyphs" style="stroke-width:0.1px">cd</text>
<line x1="526.86" y1="570.50" x2="526.86" y2="576.20" stroke="#3a3a3a" stroke-width="1.8"/>
<line x1="522.36" y1="570.50" x2="531.36" y2="570.50" stroke="#3a3a3a" stroke-width="1.6"/>
<line x1="522.36" y1="576.20" x2="531.36" y2="576.20" stroke="#3a3a3a" stroke-width="1.6"/>
<text x="521.94" y="564.20" font-family="Liberation Sans" font-size="13.5" font-weight="bold" fill="#000" textLength="9.44" lengthAdjust="spacingAndGlyphs" style="stroke-width:0.1px">e</text>
<line x1="609.49" y1="567.40" x2="609.49" y2="589.80" stroke="#3a3a3a" stroke-width="1.8"/>
<line x1="604.99" y1="567.40" x2="613.99" y2="567.40" stroke="#3a3a3a" stroke-width="1.6"/>
<line x1="604.99" y1="589.80" x2="613.99" y2="589.80" stroke="#3a3a3a" stroke-width="1.6"/>
<text x="603.76" y="563.60" font-family="Liberation Sans" font-size="13.5" font-weight="bold" fill="#000" textLength="10.48" lengthAdjust="spacingAndGlyphs" style="stroke-width:0.1px">e</text>
<line x1="71.80" y1="459.30" x2="650.90" y2="459.30" stroke="#555" stroke-width="1.6"/>
<line x1="650.20" y1="459.30" x2="650.20" y2="683.00" stroke="#555" stroke-width="1.6"/>
<line x1="71.80" y1="459.30" x2="71.80" y2="683.00" stroke="#9a9a9a" stroke-width="1.4"/>
<line x1="71.80" y1="677.00" x2="650.20" y2="677.00" stroke="#9a9a9a" stroke-width="1.4"/>
<line x1="154.43" y1="677.00" x2="154.43" y2="683.00" stroke="#9a9a9a" stroke-width="1.3"/>
<line x1="237.06" y1="677.00" x2="237.06" y2="683.00" stroke="#9a9a9a" stroke-width="1.3"/>
<line x1="319.69" y1="677.00" x2="319.69" y2="683.00" stroke="#9a9a9a" stroke-width="1.3"/>
<line x1="402.31" y1="677.00" x2="402.31" y2="683.00" stroke="#9a9a9a" stroke-width="1.3"/>
<line x1="484.94" y1="677.00" x2="484.94" y2="683.00" stroke="#9a9a9a" stroke-width="1.3"/>
<line x1="567.57" y1="677.00" x2="567.57" y2="683.00" stroke="#9a9a9a" stroke-width="1.3"/>
<text x="31.92" y="681.30" font-family="Liberation Sans" font-size="12.3" font-weight="bold" fill="#000" textLength="23.88" lengthAdjust="spacingAndGlyphs">0.0</text>
<text x="31.50" y="627.00" font-family="Liberation Sans" font-size="12.3" font-weight="bold" fill="#000" textLength="24.32" lengthAdjust="spacingAndGlyphs">1.0</text>
<text x="32.01" y="572.20" font-family="Liberation Sans" font-size="12.3" font-weight="bold" fill="#000" textLength="23.80" lengthAdjust="spacingAndGlyphs">2.0</text>
<text x="32.21" y="518.00" font-family="Liberation Sans" font-size="12.3" font-weight="bold" fill="#000" textLength="23.59" lengthAdjust="spacingAndGlyphs">3.0</text>
<text x="32.34" y="463.60" font-family="Liberation Sans" font-size="12.3" font-weight="bold" fill="#000" textLength="23.45" lengthAdjust="spacingAndGlyphs">4.0</text>
<text transform="translate(23.00,652.90) rotate(-90)" x="-0.43" y="0" font-family="Liberation Sans" font-size="20.5" font-weight="bold" fill="#000" textLength="176.27" lengthAdjust="spacingAndGlyphs">Seedling fresh weight (g)</text>
<text x="102.94" y="702.30" font-family="Liberation Sans" font-size="12.3" font-weight="bold" fill="#000" textLength="23.25" lengthAdjust="spacingAndGlyphs">0.0</text>
<text x="178.68" y="700.80" font-family="Liberation Sans" font-size="12.3" font-weight="bold" fill="#000" textLength="39.91" lengthAdjust="spacingAndGlyphs">1 µM</text>
<text x="261.15" y="701.00" font-family="Liberation Sans" font-size="12.3" font-weight="bold" fill="#000" textLength="40.36" lengthAdjust="spacingAndGlyphs">5 µM</text>
<text x="338.78" y="701.00" font-family="Liberation Sans" font-size="12.3" font-weight="bold" fill="#000" textLength="49.60" lengthAdjust="spacingAndGlyphs">10 µM</text>
<text x="421.59" y="701.00" font-family="Liberation Sans" font-size="12.3" font-weight="bold" fill="#000" textLength="49.08" lengthAdjust="spacingAndGlyphs">25 µM</text>
<text x="505.06" y="701.00" font-family="Liberation Sans" font-size="12.3" font-weight="bold" fill="#000" textLength="49.32" lengthAdjust="spacingAndGlyphs">50 µM</text>
<text x="577.48" y="701.00" font-family="Liberation Sans" font-size="12.3" font-weight="bold" fill="#000" textLength="59.50" lengthAdjust="spacingAndGlyphs">100 µM</text>
<text y="716.70" font-family="Liberation Sans" font-size="16.5" font-weight="bold" fill="#000"><tspan x="335.16" textLength="35.93" lengthAdjust="spacingAndGlyphs">TiO</tspan><tspan x="371.09" dy="4" font-size="11.5" textLength="8.36" lengthAdjust="spacingAndGlyphs">2</tspan><tspan x="379.45" dy="-4" textLength="47.94" lengthAdjust="spacingAndGlyphs"> NPs</tspan></text>
<rect x="8.50" y="422.30" width="12.20" height="9.50" fill="#162a47" />
<defs><linearGradient id="g45" x1="0" x2="0" y1="0" y2="1"><stop offset="0" stop-color="#354f73"/><stop offset="0.5" stop-color="#1f3b63"/><stop offset="1" stop-color="#1a3254"/></linearGradient></defs>
<rect x="9.60" y="422.30" width="10.00" height="8.40" fill="url(#g45)" />
<polygon points="9.10,422.30 20.10,422.30 14.60,427.53" fill="#a5b1c1" fill-opacity="0.85"/>
<text x="25.51" y="431.30" font-family="Liberation Sans" font-size="14.2" font-weight="bold" fill="#000" textLength="68.14" lengthAdjust="spacingAndGlyphs">Control</text>
<text x="97.95" y="431.30" font-family="Liberation Sans" font-size="14.2" font-weight="bold" fill="#000" textLength="29.72" lengthAdjust="spacingAndGlyphs">0.0</text>
<rect x="136.80" y="422.30" width="13.90" height="9.50" fill="#b6a6a6" />
<defs><linearGradient id="g46" x1="0" x2="0" y1="0" y2="1"><stop offset="0" stop-color="#fde8e8"/><stop offset="0.5" stop-color="#fde6e6"/><stop offset="1" stop-color="#d7c4c4"/></linearGradient></defs>
<rect x="137.90" y="422.30" width="11.70" height="8.40" fill="url(#g46)" />
<polygon points="137.40,422.30 150.10,422.30 143.75,427.53" fill="#fef5f5" fill-opacity="0.85"/>
<text x="159.54" y="431.30" font-family="Liberation Sans" font-size="14.2" font-weight="bold" fill="#000" textLength="48.30" lengthAdjust="spacingAndGlyphs">1 µM</text>
<rect x="216.00" y="422.30" width="14.20" height="9.50" fill="#ae8888" />
<defs><linearGradient id="g47" x1="0" x2="0" y1="0" y2="1"><stop offset="0" stop-color="#f2c4c4"/><stop offset="0.5" stop-color="#f1bdbd"/><stop offset="1" stop-color="#cda1a1"/></linearGradient></defs>
<rect x="217.10" y="422.30" width="12.00" height="8.40" fill="url(#g47)" />
<polygon points="216.60,422.30 229.60,422.30 223.10,427.53" fill="#f9e5e5" fill-opacity="0.85"/>
<text x="239.73" y="431.30" font-family="Liberation Sans" font-size="14.2" font-weight="bold" fill="#000" textLength="48.62" lengthAdjust="spacingAndGlyphs">5 µM</text>
<rect x="296.60" y="422.30" width="13.20" height="9.50" fill="#a68080" />
<defs><linearGradient id="g48" x1="0" x2="0" y1="0" y2="1"><stop offset="0" stop-color="#e8baba"/><stop offset="0.5" stop-color="#e6b2b2"/><stop offset="1" stop-color="#c49797"/></linearGradient></defs>
<rect x="297.70" y="422.30" width="11.00" height="8.40" fill="url(#g48)" />
<polygon points="297.20,422.30 309.20,422.30 303.20,427.53" fill="#f5e0e0" fill-opacity="0.85"/>
<text x="319.06" y="431.30" font-family="Liberation Sans" font-size="14.2" font-weight="bold" fill="#000" textLength="59.46" lengthAdjust="spacingAndGlyphs">10 µM</text>
<rect x="388.50" y="422.30" width="12.20" height="9.50" fill="#a36f6e" />
<defs><linearGradient id="g49" x1="0" x2="0" y1="0" y2="1"><stop offset="0" stop-color="#e5a4a3"/><stop offset="0.5" stop-color="#e29a99"/><stop offset="1" stop-color="#c08382"/></linearGradient></defs>
<rect x="389.60" y="422.30" width="10.00" height="8.40" fill="url(#g49)" />
<polygon points="389.10,422.30 400.10,422.30 394.60,427.53" fill="#f3d7d6" fill-opacity="0.85"/>
<text x="411.06" y="431.30" font-family="Liberation Sans" font-size="14.2" font-weight="bold" fill="#000" textLength="59.35" lengthAdjust="spacingAndGlyphs">25 µM</text>
<rect x="479.50" y="422.30" width="13.10" height="9.50" fill="#903b3b" />
<defs><linearGradient id="g50" x1="0" x2="0" y1="0" y2="1"><stop offset="0" stop-color="#ce6363"/><stop offset="0.5" stop-color="#c85252"/><stop offset="1" stop-color="#aa4646"/></linearGradient></defs>
<rect x="480.60" y="422.30" width="10.90" height="8.40" fill="url(#g50)" />
<polygon points="480.10,422.30 492.00,422.30 486.05,427.53" fill="#e9baba" fill-opacity="0.85"/>
<text x="502.16" y="431.30" font-family="Liberation Sans" font-size="14.2" font-weight="bold" fill="#000" textLength="58.54" lengthAdjust="spacingAndGlyphs">50 µM</text>
<rect x="571.40" y="422.30" width="12.20" height="9.50" fill="#702a2a" />
<defs><linearGradient id="g51" x1="0" x2="0" y1="0" y2="1"><stop offset="0" stop-color="#a64e4e"/><stop offset="0.5" stop-color="#9c3a3a"/><stop offset="1" stop-color="#853131"/></linearGradient></defs>
<rect x="572.50" y="422.30" width="10.00" height="8.40" fill="url(#g51)" />
<polygon points="572.00,422.30 583.00,422.30 577.50,427.53" fill="#d7b0b0" fill-opacity="0.85"/>
<text x="588.59" y="431.30" font-family="Liberation Sans" font-size="14.2" font-weight="bold" fill="#000" textLength="69.91" lengthAdjust="spacingAndGlyphs">100 µM</text>
<rect x="100.75" y="470.25" width="52.90" height="33.50" fill="#fff" stroke="#000" stroke-width="4.7"/>
<text x="117.16" y="493.10" font-family="Liberation Serif" font-size="23.5" font-weight="bold" fill="#000" textLength="21.64" lengthAdjust="spacingAndGlyphs">B</text>
<line x1="76.80" y1="935.80" x2="644.00" y2="935.80" stroke="#999" stroke-width="1.5"/>
<line x1="76.80" y1="882.50" x2="644.00" y2="882.50" stroke="#999" stroke-width="1.5"/>
<line x1="76.80" y1="829.00" x2="644.00" y2="829.00" stroke="#999" stroke-width="1.5"/>
<rect x="93.76" y="925.00" width="48.00" height="63.50" fill="#000" fill-opacity="0.3" filter="url(#blur)"/>
<rect x="174.79" y="901.90" width="48.00" height="86.60" fill="#000" fill-opacity="0.3" filter="url(#blur)"/>
<rect x="255.82" y="886.60" width="48.00" height="101.90" fill="#000" fill-opacity="0.3" filter="url(#blur)"/>
<rect x="336.85" y="820.10" width="48.00" height="168.40" fill="#000" fill-opacity="0.3" filter="url(#blur)"/>
<rect x="417.88" y="914.80" width="48.00" height="73.70" fill="#000" fill-opacity="0.3" filter="url(#blur)"/>
<rect x="498.91" y="932.70" width="48.00" height="55.80" fill="#000" fill-opacity="0.3" filter="url(#blur)"/>
<rect x="579.94" y="935.80" width="48.00" height="52.70" fill="#000" fill-opacity="0.3" filter="url(#blur)"/>
<defs><linearGradient id="g52" x1="0" x2="1" y1="0" y2="0"><stop offset="0" stop-color="#152842"/><stop offset="0.026" stop-color="#1c3559"/><stop offset="0.097" stop-color="#1f3b63"/><stop offset="0.796" stop-color="#1f3b63"/><stop offset="0.935" stop-color="#1b3457"/><stop offset="1" stop-color="#13253d"/></linearGradient></defs>
<rect x="94.26" y="923.50" width="46.50" height="65.00" fill="url(#g52)" />
<defs><linearGradient id="t53" x1="0" x2="0" y1="0" y2="1"><stop offset="0" stop-color="#fff" stop-opacity="0.18"/><stop offset="0.3" stop-color="#fff" stop-opacity="0.60"/><stop offset="0.7" stop-color="#fff" stop-opacity="0.48"/><stop offset="1" stop-color="#fff" stop-opacity="0.21"/></linearGradient></defs>
<polygon points="95.06,923.50 139.96,923.50 132.76,930.00 102.26,930.00" fill="url(#t53)" />
<polygon points="95.26,988.50 139.76,988.50 133.56,983.30 101.46,983.30" fill="#000" fill-opacity="0.08"/>
<defs><linearGradient id="g54" x1="0" x2="1" y1="0" y2="0"><stop offset="0" stop-color="#aa9a9a"/><stop offset="0.026" stop-color="#e4cfcf"/><stop offset="0.097" stop-color="#fde6e6"/><stop offset="0.796" stop-color="#fde6e6"/><stop offset="0.935" stop-color="#dfcaca"/><stop offset="1" stop-color="#9d8f8f"/></linearGradient></defs>
<rect x="175.29" y="900.40" width="46.50" height="88.10" fill="url(#g54)" />
<defs><linearGradient id="t55" x1="0" x2="0" y1="0" y2="1"><stop offset="0" stop-color="#fff" stop-opacity="0.28"/><stop offset="0.3" stop-color="#fff" stop-opacity="0.95"/><stop offset="0.7" stop-color="#fff" stop-opacity="0.76"/><stop offset="1" stop-color="#fff" stop-opacity="0.33"/></linearGradient></defs>
<polygon points="176.09,900.40 220.99,900.40 213.79,906.90 183.29,906.90" fill="url(#t55)" />
<polygon points="176.29,988.50 220.79,988.50 214.59,983.30 182.49,983.30" fill="#000" fill-opacity="0.08"/>
<defs><linearGradient id="g56" x1="0" x2="1" y1="0" y2="0"><stop offset="0" stop-color="#a17f7f"/><stop offset="0.026" stop-color="#d9aaaa"/><stop offset="0.097" stop-color="#f1bdbd"/><stop offset="0.796" stop-color="#f1bdbd"/><stop offset="0.935" stop-color="#d4a6a6"/><stop offset="1" stop-color="#957575"/></linearGradient></defs>
<rect x="256.32" y="885.10" width="46.50" height="103.40" fill="url(#g56)" />
<defs><linearGradient id="t57" x1="0" x2="0" y1="0" y2="1"><stop offset="0" stop-color="#fff" stop-opacity="0.28"/><stop offset="0.3" stop-color="#fff" stop-opacity="0.95"/><stop offset="0.7" stop-color="#fff" stop-opacity="0.76"/><stop offset="1" stop-color="#fff" stop-opacity="0.33"/></linearGradient></defs>
<polygon points="257.12,885.10 302.02,885.10 294.82,891.60 264.32,891.60" fill="url(#t57)" />
<polygon points="257.32,988.50 301.82,988.50 295.62,983.30 263.52,983.30" fill="#000" fill-opacity="0.08"/>
<defs><linearGradient id="g58" x1="0" x2="1" y1="0" y2="0"><stop offset="0" stop-color="#745656"/><stop offset="0.05" stop-color="#9a7272"/><stop offset="0.90" stop-color="#e6b2b2"/><stop offset="0.96" stop-color="#c49797"/><stop offset="1" stop-color="#8a6b6b"/></linearGradient></defs>
<rect x="337.35" y="818.60" width="46.50" height="169.90" fill="url(#g58)" />
<defs><linearGradient id="t59" x1="0" x2="0" y1="0" y2="1"><stop offset="0" stop-color="#fff" stop-opacity="0.28"/><stop offset="0.3" stop-color="#fff" stop-opacity="0.95"/><stop offset="0.7" stop-color="#fff" stop-opacity="0.76"/><stop offset="1" stop-color="#fff" stop-opacity="0.33"/></linearGradient></defs>
<polygon points="338.15,818.60 383.05,818.60 375.85,825.10 345.35,825.10" fill="url(#t59)" />
<polygon points="338.35,988.50 382.85,988.50 376.65,983.30 344.55,983.30" fill="#000" fill-opacity="0.08"/>
<defs><linearGradient id="g60" x1="0" x2="1" y1="0" y2="0"><stop offset="0" stop-color="#976767"/><stop offset="0.026" stop-color="#cb8b8a"/><stop offset="0.097" stop-color="#e29a99"/><stop offset="0.796" stop-color="#e29a99"/><stop offset="0.935" stop-color="#c78887"/><stop offset="1" stop-color="#8c5f5f"/></linearGradient></defs>
<rect x="418.38" y="913.30" width="46.50" height="75.20" fill="url(#g60)" />
<defs><linearGradient id="t61" x1="0" x2="0" y1="0" y2="1"><stop offset="0" stop-color="#fff" stop-opacity="0.18"/><stop offset="0.3" stop-color="#fff" stop-opacity="0.60"/><stop offset="0.7" stop-color="#fff" stop-opacity="0.48"/><stop offset="1" stop-color="#fff" stop-opacity="0.21"/></linearGradient></defs>
<polygon points="419.18,913.30 464.08,913.30 456.88,919.80 426.38,919.80" fill="url(#t61)" />
<polygon points="419.38,988.50 463.88,988.50 457.68,983.30 425.58,983.30" fill="#000" fill-opacity="0.08"/>
<defs><linearGradient id="g62" x1="0" x2="1" y1="0" y2="0"><stop offset="0" stop-color="#863737"/><stop offset="0.026" stop-color="#b44a4a"/><stop offset="0.097" stop-color="#c85252"/><stop offset="0.796" stop-color="#c85252"/><stop offset="0.935" stop-color="#b04848"/><stop offset="1" stop-color="#7c3333"/></linearGradient></defs>
<rect x="499.41" y="931.20" width="46.50" height="57.30" fill="url(#g62)" />
<defs><linearGradient id="t63" x1="0" x2="0" y1="0" y2="1"><stop offset="0" stop-color="#fff" stop-opacity="0.18"/><stop offset="0.3" stop-color="#fff" stop-opacity="0.60"/><stop offset="0.7" stop-color="#fff" stop-opacity="0.48"/><stop offset="1" stop-color="#fff" stop-opacity="0.21"/></linearGradient></defs>
<polygon points="500.21,931.20 545.11,931.20 537.91,937.70 507.41,937.70" fill="url(#t63)" />
<polygon points="500.41,988.50 544.91,988.50 538.71,983.30 506.61,983.30" fill="#000" fill-opacity="0.08"/>
<defs><linearGradient id="g64" x1="0" x2="1" y1="0" y2="0"><stop offset="0" stop-color="#692727"/><stop offset="0.026" stop-color="#8c3434"/><stop offset="0.097" stop-color="#9c3a3a"/><stop offset="0.796" stop-color="#9c3a3a"/><stop offset="0.935" stop-color="#893333"/><stop offset="1" stop-color="#612424"/></linearGradient></defs>
<rect x="580.44" y="934.30" width="46.50" height="54.20" fill="url(#g64)" />
<defs><linearGradient id="t65" x1="0" x2="0" y1="0" y2="1"><stop offset="0" stop-color="#fff" stop-opacity="0.18"/><stop offset="0.3" stop-color="#fff" stop-opacity="0.60"/><stop offset="0.7" stop-color="#fff" stop-opacity="0.48"/><stop offset="1" stop-color="#fff" stop-opacity="0.21"/></linearGradient></defs>
<polygon points="581.24,934.30 626.14,934.30 618.94,940.80 588.44,940.80" fill="url(#t65)" />
<polygon points="581.44,988.50 625.94,988.50 619.74,983.30 587.64,983.30" fill="#000" fill-opacity="0.08"/>
<line x1="117.51" y1="922.40" x2="117.51" y2="925.60" stroke="#000" stroke-width="2.4"/>
<line x1="112.76" y1="922.40" x2="122.26" y2="922.40" stroke="#000" stroke-width="1.8"/>
<line x1="112.76" y1="925.60" x2="122.26" y2="925.60" stroke="#000" stroke-width="1.8"/>
<text x="113.96" y="909.50" font-family="Liberation Sans" font-size="14" font-weight="bold" fill="#000" textLength="10.60" lengthAdjust="spacingAndGlyphs" style="stroke-width:0.15px">e</text>
<line x1="198.54" y1="898.50" x2="198.54" y2="902.50" stroke="#000" stroke-width="2.4"/>
<line x1="193.79" y1="898.50" x2="203.29" y2="898.50" stroke="#000" stroke-width="1.8"/>
<line x1="193.79" y1="902.50" x2="203.29" y2="902.50" stroke="#000" stroke-width="1.8"/>
<text x="193.85" y="889.90" font-family="Liberation Sans" font-size="14" font-weight="bold" fill="#000" textLength="9.24" lengthAdjust="spacingAndGlyphs" style="stroke-width:0.15px">c</text>
<line x1="279.57" y1="882.80" x2="279.57" y2="888.60" stroke="#000" stroke-width="2.4"/>
<line x1="274.82" y1="882.80" x2="284.32" y2="882.80" stroke="#000" stroke-width="1.8"/>
<line x1="274.82" y1="888.60" x2="284.32" y2="888.60" stroke="#000" stroke-width="1.8"/>
<text x="273.77" y="875.30" font-family="Liberation Sans" font-size="14" font-weight="bold" fill="#000" textLength="11.39" lengthAdjust="spacingAndGlyphs" style="stroke-width:0.15px">b</text>
<line x1="360.60" y1="815.00" x2="360.60" y2="822.50" stroke="#000" stroke-width="2.4"/>
<line x1="355.85" y1="815.00" x2="365.35" y2="815.00" stroke="#000" stroke-width="1.8"/>
<line x1="355.85" y1="822.50" x2="365.35" y2="822.50" stroke="#000" stroke-width="1.8"/>
<text x="355.61" y="800.30" font-family="Liberation Sans" font-size="14" font-weight="bold" fill="#000" textLength="9.28" lengthAdjust="spacingAndGlyphs" style="stroke-width:0.15px">a</text>
<line x1="441.63" y1="911.90" x2="441.63" y2="915.10" stroke="#000" stroke-width="2.4"/>
<line x1="436.88" y1="911.90" x2="446.38" y2="911.90" stroke="#000" stroke-width="1.8"/>
<line x1="436.88" y1="915.10" x2="446.38" y2="915.10" stroke="#000" stroke-width="1.8"/>
<text x="436.13" y="895.00" font-family="Liberation Sans" font-size="14" font-weight="bold" fill="#000" textLength="11.39" lengthAdjust="spacingAndGlyphs" style="stroke-width:0.15px">d</text>
<line x1="522.66" y1="929.80" x2="522.66" y2="933.10" stroke="#000" stroke-width="2.4"/>
<line x1="517.91" y1="929.80" x2="527.41" y2="929.80" stroke="#000" stroke-width="1.8"/>
<line x1="517.91" y1="933.10" x2="527.41" y2="933.10" stroke="#000" stroke-width="1.8"/>
<text x="519.25" y="920.30" font-family="Liberation Sans" font-size="14" font-weight="bold" fill="#000" textLength="6.81" lengthAdjust="spacingAndGlyphs" style="stroke-width:0.15px">f</text>
<line x1="603.69" y1="932.60" x2="603.69" y2="936.40" stroke="#000" stroke-width="2.4"/>
<line x1="598.94" y1="932.60" x2="608.44" y2="932.60" stroke="#000" stroke-width="1.8"/>
<line x1="598.94" y1="936.40" x2="608.44" y2="936.40" stroke="#000" stroke-width="1.8"/>
<text x="600.02" y="920.60" font-family="Liberation Sans" font-size="14" font-weight="bold" fill="#000" textLength="7.33" lengthAdjust="spacingAndGlyphs" style="stroke-width:0.15px">f</text>
<line x1="76.80" y1="775.80" x2="645.00" y2="775.80" stroke="#222" stroke-width="2.0"/>
<line x1="644.00" y1="775.80" x2="644.00" y2="993.50" stroke="#000" stroke-width="2.0"/>
<line x1="76.80" y1="775.80" x2="76.80" y2="993.50" stroke="#8a8a8a" stroke-width="1.5"/>
<line x1="76.80" y1="988.50" x2="644.00" y2="988.50" stroke="#8a8a8a" stroke-width="1.5"/>
<line x1="157.83" y1="988.50" x2="157.83" y2="993.50" stroke="#8a8a8a" stroke-width="1.4"/>
<line x1="238.86" y1="988.50" x2="238.86" y2="993.50" stroke="#8a8a8a" stroke-width="1.4"/>
<line x1="319.89" y1="988.50" x2="319.89" y2="993.50" stroke="#8a8a8a" stroke-width="1.4"/>
<line x1="400.91" y1="988.50" x2="400.91" y2="993.50" stroke="#8a8a8a" stroke-width="1.4"/>
<line x1="481.94" y1="988.50" x2="481.94" y2="993.50" stroke="#8a8a8a" stroke-width="1.4"/>
<line x1="562.97" y1="988.50" x2="562.97" y2="993.50" stroke="#8a8a8a" stroke-width="1.4"/>
<text x="26.01" y="992.20" font-family="Liberation Sans" font-size="10.8" font-weight="bold" fill="#000" textLength="34.11" lengthAdjust="spacingAndGlyphs">0.00</text>
<text x="26.01" y="939.50" font-family="Liberation Sans" font-size="10.8" font-weight="bold" fill="#000" textLength="33.87" lengthAdjust="spacingAndGlyphs">0.05</text>
<text x="26.01" y="886.20" font-family="Liberation Sans" font-size="10.8" font-weight="bold" fill="#000" textLength="34.11" lengthAdjust="spacingAndGlyphs">0.10</text>
<text x="26.01" y="832.70" font-family="Liberation Sans" font-size="10.8" font-weight="bold" fill="#000" textLength="33.87" lengthAdjust="spacingAndGlyphs">0.15</text>
<text x="26.01" y="779.50" font-family="Liberation Sans" font-size="10.8" font-weight="bold" fill="#000" textLength="34.11" lengthAdjust="spacingAndGlyphs">0.20</text>
<text transform="translate(17.60,973.90) rotate(-90)" x="-0.41" y="0" font-family="Liberation Sans" font-size="20.5" font-weight="bold" fill="#000" textLength="158.33" lengthAdjust="spacingAndGlyphs">Seedling dry weight (g)</text>
<text x="98.84" y="1015.00" font-family="Liberation Sans" font-size="13.5" font-weight="bold" fill="#000" textLength="26.64" lengthAdjust="spacingAndGlyphs">0.0</text>
<text x="177.60" y="1013.20" font-family="Liberation Sans" font-size="13.5" font-weight="bold" fill="#000" textLength="46.39" lengthAdjust="spacingAndGlyphs">1 µM</text>
<text x="259.28" y="1013.20" font-family="Liberation Sans" font-size="13.5" font-weight="bold" fill="#000" textLength="45.17" lengthAdjust="spacingAndGlyphs">5 µM</text>
<text x="334.62" y="1013.20" font-family="Liberation Sans" font-size="13.5" font-weight="bold" fill="#000" textLength="56.84" lengthAdjust="spacingAndGlyphs">10 µM</text>
<text x="416.21" y="1013.20" font-family="Liberation Sans" font-size="13.5" font-weight="bold" fill="#000" textLength="55.83" lengthAdjust="spacingAndGlyphs">25 µM</text>
<text x="497.08" y="1013.30" font-family="Liberation Sans" font-size="13.5" font-weight="bold" fill="#000" textLength="56.57" lengthAdjust="spacingAndGlyphs">50 µM</text>
<text x="568.05" y="1013.30" font-family="Liberation Sans" font-size="13.5" font-weight="bold" fill="#000" textLength="66.79" lengthAdjust="spacingAndGlyphs">100 µM</text>
<text y="1032.60" font-family="Liberation Sans" font-size="13.3" font-weight="bold" fill="#000"><tspan x="305.11" textLength="28.73" lengthAdjust="spacingAndGlyphs">TiO</tspan><tspan x="333.83" dy="3" font-size="9.5" textLength="6.85" lengthAdjust="spacingAndGlyphs">2</tspan><tspan x="340.68" dy="-3" textLength="38.32" lengthAdjust="spacingAndGlyphs"> NPs</tspan></text>
<rect x="11.40" y="747.50" width="12.00" height="8.70" fill="#162a47" />
<defs><linearGradient id="g66" x1="0" x2="0" y1="0" y2="1"><stop offset="0" stop-color="#354f73"/><stop offset="0.5" stop-color="#1f3b63"/><stop offset="1" stop-color="#1a3254"/></linearGradient></defs>
<rect x="12.50" y="747.50" width="9.80" height="7.60" fill="url(#g66)" />
<polygon points="12.00,747.50 22.80,747.50 17.40,752.29" fill="#a5b1c1" fill-opacity="0.85"/>
<text x="27.75" y="755.60" font-family="Liberation Sans" font-size="13.6" font-weight="bold" fill="#000" textLength="65.05" lengthAdjust="spacingAndGlyphs" style="stroke-width:0.15px">Control</text>
<text x="96.61" y="755.60" font-family="Liberation Sans" font-size="13.6" font-weight="bold" fill="#000" textLength="27.71" lengthAdjust="spacingAndGlyphs" style="stroke-width:0.15px">0.0</text>
<rect x="138.20" y="747.50" width="12.80" height="8.70" fill="#b6a6a6" />
<defs><linearGradient id="g67" x1="0" x2="0" y1="0" y2="1"><stop offset="0" stop-color="#fde8e8"/><stop offset="0.5" stop-color="#fde6e6"/><stop offset="1" stop-color="#d7c4c4"/></linearGradient></defs>
<rect x="139.30" y="747.50" width="10.60" height="7.60" fill="url(#g67)" />
<polygon points="138.80,747.50 150.40,747.50 144.60,752.29" fill="#fef5f5" fill-opacity="0.85"/>
<text x="160.12" y="755.60" font-family="Liberation Sans" font-size="13.6" font-weight="bold" fill="#000" textLength="45.54" lengthAdjust="spacingAndGlyphs" style="stroke-width:0.15px">1 µM</text>
<rect x="220.80" y="747.50" width="12.40" height="8.70" fill="#ae8888" />
<defs><linearGradient id="g68" x1="0" x2="0" y1="0" y2="1"><stop offset="0" stop-color="#f2c4c4"/><stop offset="0.5" stop-color="#f1bdbd"/><stop offset="1" stop-color="#cda1a1"/></linearGradient></defs>
<rect x="221.90" y="747.50" width="10.20" height="7.60" fill="url(#g68)" />
<polygon points="221.40,747.50 232.60,747.50 227.00,752.29" fill="#f9e5e5" fill-opacity="0.85"/>
<text x="242.58" y="755.60" font-family="Liberation Sans" font-size="13.6" font-weight="bold" fill="#000" textLength="45.48" lengthAdjust="spacingAndGlyphs" style="stroke-width:0.15px">5 µM</text>
<rect x="303.10" y="747.50" width="12.80" height="8.70" fill="#a68080" />
<defs><linearGradient id="g69" x1="0" x2="0" y1="0" y2="1"><stop offset="0" stop-color="#e8baba"/><stop offset="0.5" stop-color="#e6b2b2"/><stop offset="1" stop-color="#c49797"/></linearGradient></defs>
<rect x="304.20" y="747.50" width="10.60" height="7.60" fill="url(#g69)" />
<polygon points="303.70,747.50 315.30,747.50 309.50,752.29" fill="#f5e0e0" fill-opacity="0.85"/>
<text x="324.24" y="755.60" font-family="Liberation Sans" font-size="13.6" font-weight="bold" fill="#000" textLength="56.21" lengthAdjust="spacingAndGlyphs" style="stroke-width:0.15px">10 µM</text>
<rect x="395.20" y="747.50" width="12.40" height="8.70" fill="#a36f6e" />
<defs><linearGradient id="g70" x1="0" x2="0" y1="0" y2="1"><stop offset="0" stop-color="#e5a4a3"/><stop offset="0.5" stop-color="#e29a99"/><stop offset="1" stop-color="#c08382"/></linearGradient></defs>
<rect x="396.30" y="747.50" width="10.20" height="7.60" fill="url(#g70)" />
<polygon points="395.80,747.50 407.00,747.50 401.40,752.29" fill="#f3d7d6" fill-opacity="0.85"/>
<text x="416.50" y="755.60" font-family="Liberation Sans" font-size="13.6" font-weight="bold" fill="#000" textLength="56.34" lengthAdjust="spacingAndGlyphs" style="stroke-width:0.15px">25 µM</text>
<rect x="487.60" y="747.50" width="12.50" height="8.70" fill="#903b3b" />
<defs><linearGradient id="g71" x1="0" x2="0" y1="0" y2="1"><stop offset="0" stop-color="#ce6363"/><stop offset="0.5" stop-color="#c85252"/><stop offset="1" stop-color="#aa4646"/></linearGradient></defs>
<rect x="488.70" y="747.50" width="10.30" height="7.60" fill="url(#g71)" />
<polygon points="488.20,747.50 499.50,747.50 493.85,752.29" fill="#e9baba" fill-opacity="0.85"/>
<text x="509.28" y="755.60" font-family="Liberation Sans" font-size="13.6" font-weight="bold" fill="#000" textLength="56.47" lengthAdjust="spacingAndGlyphs" style="stroke-width:0.15px">50 µM</text>
<rect x="580.30" y="747.50" width="12.40" height="8.70" fill="#702a2a" />
<defs><linearGradient id="g72" x1="0" x2="0" y1="0" y2="1"><stop offset="0" stop-color="#a64e4e"/><stop offset="0.5" stop-color="#9c3a3a"/><stop offset="1" stop-color="#853131"/></linearGradient></defs>
<rect x="581.40" y="747.50" width="10.20" height="7.60" fill="url(#g72)" />
<polygon points="580.90,747.50 592.10,747.50 586.50,752.29" fill="#d7b0b0" fill-opacity="0.85"/>
<text x="596.55" y="755.60" font-family="Liberation Sans" font-size="13.6" font-weight="bold" fill="#000" textLength="66.37" lengthAdjust="spacingAndGlyphs" style="stroke-width:0.15px">100 µM</text>
<rect x="124.20" y="789.60" width="58.10" height="32.30" fill="#fff" stroke="#000" stroke-width="3.0"/>
<text x="138.39" y="812.20" font-family="Liberation Serif" font-size="23" font-weight="bold" fill="#000" textLength="23.82" lengthAdjust="spacingAndGlyphs">C</text>
</svg>
</body></html>
